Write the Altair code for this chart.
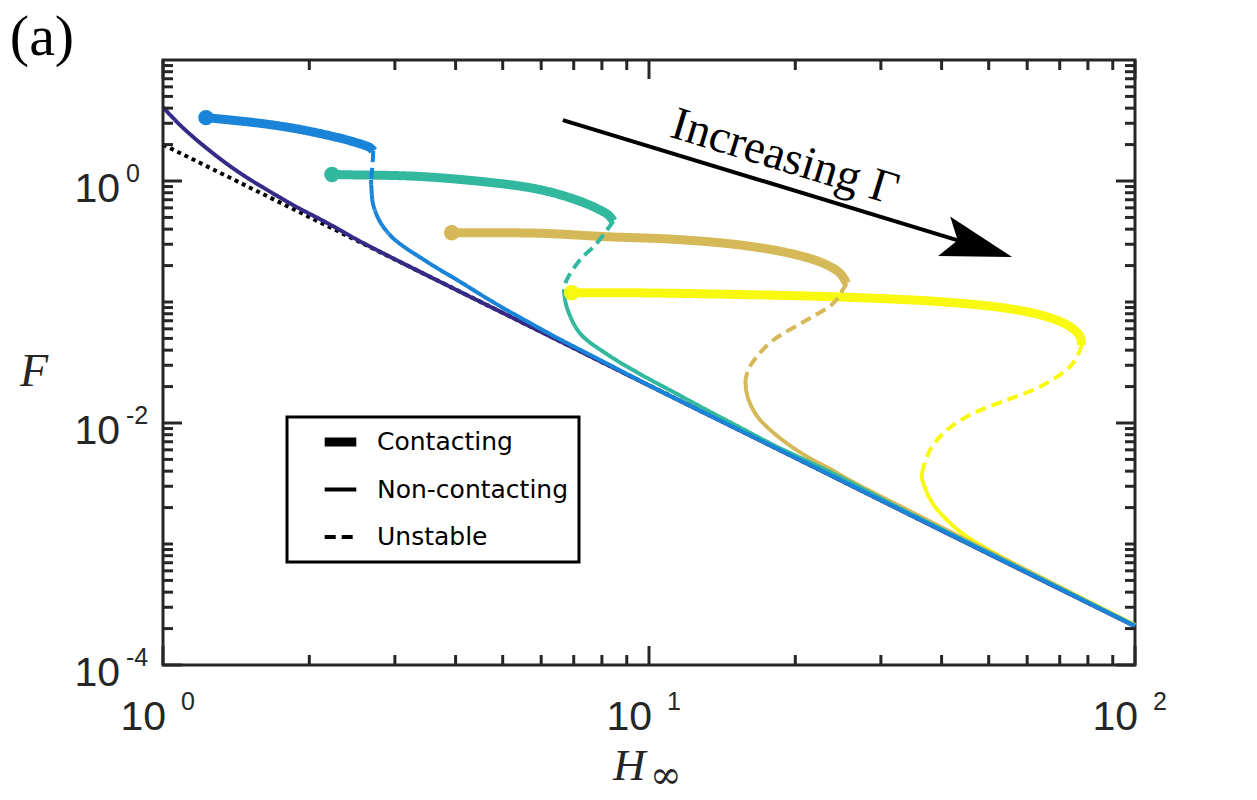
import altair as alt
import pandas as pd

# ---------------- values ----------------
# dark navy curve
navy_H = [1.0, 1.0736, 1.1527, 1.2494, 1.354, 1.475, 1.621, 1.851, 2.175, 2.543, 2.974,
          4.0, 6.0, 10.0, 20.0, 40.0, 100.0]
navy_F = [4.07, 3.015, 2.319, 1.773, 1.385, 1.093, 0.8653, 0.6335, 0.4505, 0.3177, 0.2297,
          0.1268, 0.0566, 0.0204, 0.00515, 0.00129, 0.000209]

# black dotted asymptote
asym_H = [1.0, 100.0]
asym_F = [2.0, 0.00021]

# blue
g1_contact_H = [1.226, 1.583, 1.854, 2.172, 2.465, 2.667, 2.708]
g1_contact_F = [3.34, 3.00, 2.73, 2.40, 2.11, 1.885, 1.77]
g1_unstable_H = [2.708, 2.698, 2.68]
g1_unstable_F = [1.77, 1.356, 1.019]
g1_noncontact_H = [2.68, 2.69, 2.708, 2.796, 2.977, 3.49, 4.083, 4.782, 5.603, 6.459, 7.93,
                   10.0, 20.0, 40.0, 100.0]
g1_noncontact_F = [1.019, 0.77, 0.634, 0.461, 0.336, 0.2155, 0.1472, 0.0996, 0.0694, 0.05078, 0.03317,
                   0.0205, 0.00517, 0.0013, 0.00021]

# teal
g2_contact_H = [2.227, 2.426, 3.327, 4.561, 5.781, 6.77, 7.68, 8.248, 8.445]
g2_contact_F = [1.132, 1.125, 1.093, 0.987, 0.870, 0.742, 0.613, 0.5236, 0.467]
g2_unstable_H = [8.445, 7.807, 7.21, 6.77, 6.684]
g2_unstable_F = [0.467, 0.3055, 0.2223, 0.152, 0.1257]
g2_noncontact_H = [6.684, 6.77, 7.211, 8.185, 9.583, 11.22, 13.14, 15.39, 18.03, 23.58, 32.86, 52.76, 100.0]
g2_noncontact_F = [0.1257, 0.0914, 0.0551, 0.03717, 0.02541, 0.01804, 0.01281, 0.00918, 0.00658,
                   0.003936, 0.001968, 0.000762, 0.0002113]

# gold
g3_contact_H = [3.927, 5.967, 8.18, 11.22, 15.39, 19.5, 22.84, 24.72, 25.51]
g3_contact_F = [0.374, 0.370, 0.3465, 0.330, 0.296, 0.2526, 0.209, 0.1727, 0.1427]
g3_unstable_H = [25.51, 25.31, 23.94, 21.11, 18.03, 16.66, 15.99, 15.79]
g3_unstable_F = [0.1427, 0.1356, 0.0976, 0.0710, 0.0485, 0.0353, 0.02742, 0.02224]
g3_noncontact_H = [15.79, 15.87, 16.14, 16.68, 17.47, 19.05, 21.11, 23.58, 26.76, 33.89, 46.48,
                   63.76, 80.8, 100.0]
g3_noncontact_F = [0.02224, 0.01804, 0.01455, 0.01143, 0.00932, 0.00697, 0.0053, 0.004167, 0.003132,
                   0.001928, 0.001009, 0.000532, 0.000327, 0.0002125]

# yellow
g4_contact_H = [6.93, 9.58, 15.39, 24.72, 39.7, 54.45, 65.8, 73.5, 77.1, 77.6]
g4_contact_F = [0.1194, 0.1190, 0.1153, 0.110, 0.1006, 0.0887, 0.0756, 0.0625, 0.0517, 0.0441]
g4_unstable_H = [77.6, 77.1, 73.5, 63.76, 54.45, 46.45, 41.0, 37.87, 36.57]
g4_unstable_F = [0.0441, 0.0401, 0.0292, 0.01995, 0.01549, 0.01202, 0.00875, 0.00598, 0.004089]
g4_noncontact_H = [36.57, 36.45, 36.98, 37.87, 39.08, 40.65, 42.97, 46.19, 50.3, 56.62, 63.76, 80.8, 100.0]
g4_noncontact_F = [0.004089, 0.003512, 0.002904, 0.002354, 0.001947, 0.00164, 0.00133, 0.001079,
                   0.000884, 0.000683, 0.000535, 0.00033, 0.000214]

# start markers of the contacting branches
dot_series = ["g1", "g2", "g3", "g4"]
dot_H = [1.226, 2.227, 3.927, 6.93]
dot_F = [3.34, 1.132, 0.374, 0.1194]

# arrow annotation (data coordinates)
arrow_H = [6.65, 43.2]
arrow_F = [3.19, 0.323]
arrowhead_H = [47.55]
arrowhead_F = [0.287]
arrow_text_H = [18.67]
arrow_text_F = [1.214]
arrow_text = ["Increasing \u0393"]

series_ids = ["g0", "g1", "g2", "g3", "g4"]
series_colors = ["#352a87", "#1a84d8", "#31b89e", "#d5b958", "#f9f910"]
kinds = ["Contacting", "Non-contacting", "Unstable"]
kind_code = {"Contacting": 0, "Non-contacting": 1, "Unstable": 2}
kind_widths = [9, 4, 4]
kind_dashes = [[1, 0], [1, 0], [11, 6]]

x_major = [1, 10, 100]
x_major_exp = ["0", "1", "2"]
x_minor = [2, 3, 4, 5, 6, 7, 8, 9, 20, 30, 40, 50, 60, 70, 80, 90]
y_major = [1e-4, 1e-2, 1]
y_major_exp = ["-4", "-2", "0"]
y_minor = [m * 10.0 ** e for e in [-4, -3, -2, -1, 0] for m in range(1, 10)
           if not (m == 1 and e in (-4, -2, 0))]

# ---------------- build tables ----------------
rows = []
def add(series, kind, Hs, Fs):
    for i, (h, f) in enumerate(zip(Hs, Fs)):
        rows.append(dict(H=h, F=f, series=series, kind=kind, k=kind_code[kind],
                         seg=f"{series}-{kind}", idx=i))

add("g0", "Non-contacting", navy_H, navy_F)
for s, c, u, n in [
    ("g4", (g4_contact_H, g4_contact_F), (g4_unstable_H, g4_unstable_F), (g4_noncontact_H, g4_noncontact_F)),
    ("g3", (g3_contact_H, g3_contact_F), (g3_unstable_H, g3_unstable_F), (g3_noncontact_H, g3_noncontact_F)),
    ("g2", (g2_contact_H, g2_contact_F), (g2_unstable_H, g2_unstable_F), (g2_noncontact_H, g2_noncontact_F)),
    ("g1", (g1_contact_H, g1_contact_F), (g1_unstable_H, g1_unstable_F), (g1_noncontact_H, g1_noncontact_F)),
]:
    add(s, "Non-contacting", *n)
    add(s, "Contacting", *c)
    add(s, "Unstable", *u)
df = pd.DataFrame(rows)

PW, PH = 972, 605
AX = "#262626"
xs = alt.Scale(type="log", domain=[1, 100], nice=False)
ys = alt.Scale(type="log", domain=[1e-4, 10], nice=False)
X = lambda f: alt.X(f, scale=xs, axis=None)
Y = lambda f: alt.Y(f, scale=ys, axis=None)
color_scale = alt.Scale(domain=series_ids, range=series_colors)

asym = alt.Chart(pd.DataFrame({"H": asym_H, "F": asym_F})).mark_line(
    color="black", strokeWidth=4, strokeDash=[4, 4], strokeCap="butt"
).encode(x=X("H:Q"), y=Y("F:Q"))

label_expr = ("datum.value < 0.5 ? '%s' : datum.value < 1.5 ? '%s' : '%s'" % tuple(kinds))
legend = alt.Legend(
    title=None, orient="none", legendX=124, legendY=357, direction="vertical",
    symbolType="stroke", symbolSize=1000, symbolStrokeColor="black", symbolOffset=23,
    clipHeight=30,
    labelExpr=label_expr,
    labelFont="DejaVu Sans", labelFontSize=25, labelColor="black", labelOffset=16, labelLimit=400,
    rowPadding=17.5, padding=10, strokeColor="black", fillColor="white",
)

lines = alt.Chart(df).mark_line(interpolate="catmull-rom", strokeCap="butt", strokeJoin="round").encode(
    x=X("H:Q"), y=Y("F:Q"),
    color=alt.Color("series:N", scale=color_scale, legend=None),
    strokeDash=alt.StrokeDash("k:Q", scale=alt.Scale(type="threshold", domain=[0.5, 1.5], range=kind_dashes),
                              legend=legend),
    strokeWidth=alt.StrokeWidth("k:Q", scale=alt.Scale(type="threshold", domain=[0.5, 1.5], range=kind_widths),
                                legend=legend),
    detail="seg:N",
    order="idx:Q",
)

dots = alt.Chart(pd.DataFrame({"H": dot_H, "F": dot_F, "series": dot_series})).mark_point(
    filled=True, shape="circle", size=240, opacity=1
).encode(x=X("H:Q"), y=Y("F:Q"), color=alt.Color("series:N", scale=color_scale, legend=None))

shaft = alt.Chart(pd.DataFrame({"H": arrow_H, "F": arrow_F})).mark_line(
    color="black", strokeWidth=4, strokeCap="butt"
).encode(x=X("H:Q"), y=Y("F:Q"))

head = alt.Chart(pd.DataFrame({"H": arrowhead_H, "F": arrowhead_F})).mark_point(
    shape="M 1 0 L -1 -0.58 L -0.6 0 L -1 0.58 Z", filled=True, size=5041, angle=17,
    color="black", opacity=1
).encode(x=X("H:Q"), y=Y("F:Q"))

atext = alt.Chart(pd.DataFrame({"H": arrow_text_H, "F": arrow_text_F, "t": arrow_text})).mark_text(
    angle=17, align="center", baseline="alphabetic", font="Liberation Serif", fontSize=47, color="black"
).encode(x=X("H:Q"), y=Y("F:Q"), text="t:N")

# ticks (inside the box, on all four sides)
def ticks(vals, side, length):
    c = alt.Chart(pd.DataFrame({"v": vals})).mark_rule(color=AX, strokeWidth=3)
    if side == "bottom":
        return c.encode(x=X("v:Q"), y=alt.value(PH), y2=alt.value(PH - length))
    if side == "top":
        return c.encode(x=X("v:Q"), y=alt.value(0), y2=alt.value(length))
    if side == "left":
        return c.encode(y=Y("v:Q"), x=alt.value(0), x2=alt.value(length))
    return c.encode(y=Y("v:Q"), x=alt.value(PW), x2=alt.value(PW - length))

tick_layers = []
for side in ["bottom", "top"]:
    tick_layers += [ticks(x_major, side, 19), ticks(x_minor, side, 10)]
for side in ["left", "right"]:
    tick_layers += [ticks(y_major, side, 19), ticks(y_minor, side, 10)]

TF = "Liberation Sans Narrow, Liberation Sans, Arial"
xlab = pd.DataFrame({"v": x_major, "e": x_major_exp})
xl_base = alt.Chart(xlab).mark_text(text="10", align="right", baseline="alphabetic", dx=3,
                                    font=TF, fontSize=41, color=AX).encode(x=X("v:Q"), y=alt.value(PH + 65))
xl_exp = alt.Chart(xlab).mark_text(align="left", baseline="alphabetic", dx=18,
                                   font=TF, fontSize=25, color=AX).encode(x=X("v:Q"), y=alt.value(PH + 45), text="e:N")
ylab = pd.DataFrame({"v": y_major, "e": y_major_exp})
yl_base = alt.Chart(ylab).mark_text(text="10", align="right", baseline="alphabetic", dy=21,
                                    font=TF, fontSize=41, color=AX).encode(y=Y("v:Q"), x=alt.value(-43))
yl_exp = alt.Chart(ylab).mark_text(align="left", baseline="alphabetic", dy=1,
                                   font=TF, fontSize=25, color=AX).encode(y=Y("v:Q"), x=alt.value(-37), text="e:N")

one = pd.DataFrame({"a": [0]})
SERIF = "Liberation Serif"
t_F = alt.Chart(one).mark_text(text="F", font=SERIF, fontStyle="italic", fontSize=46, color=AX,
                               align="center", baseline="middle").encode(x=alt.value(-129), y=alt.value(312))
t_H = alt.Chart(one).mark_text(text="H", font=SERIF, fontStyle="italic", fontSize=45, color=AX,
                               align="left", baseline="alphabetic").encode(x=alt.value(450), y=alt.value(720))
t_inf = alt.Chart(one).mark_text(text="\u221e", font="DejaVu Serif", fontSize=38, color=AX,
                                 align="left", baseline="alphabetic").encode(x=alt.value(487), y=alt.value(728))
t_a = alt.Chart(one).mark_text(text="(a)", font=SERIF, fontSize=58, color="black",
                               align="center", baseline="alphabetic").encode(x=alt.value(-121), y=alt.value(-5))

chart = alt.layer(
    asym, lines, dots, shaft, head, atext, *tick_layers,
    xl_base, xl_exp, yl_base, yl_exp, t_F, t_H, t_inf, t_a
).properties(
    width=PW, height=PH,
    padding={"left": 163, "top": 60, "right": 122, "bottom": 135},
    autosize=alt.AutoSizeParams(type="none"),
).configure_view(stroke=AX, strokeWidth=3).configure_legend(strokeWidth=3)

chart.save("out.html", embed_options={"renderer": "svg", "actions": False})
